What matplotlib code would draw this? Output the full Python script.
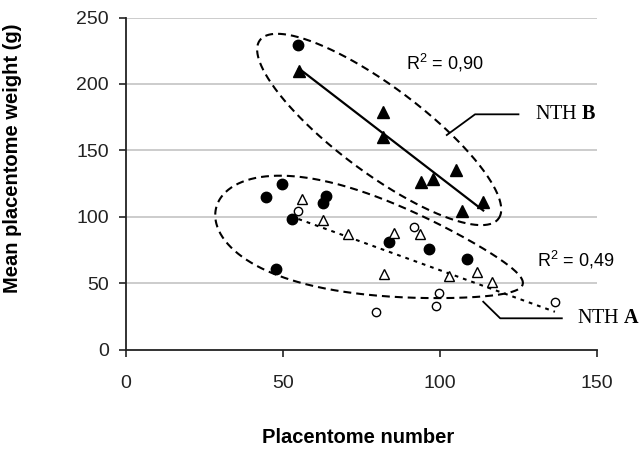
import numpy as np
import matplotlib
matplotlib.use("Agg")
import matplotlib.pyplot as plt

plt.rcParams['font.family'] = ['Liberation Sans', 'DejaVu Sans']
plt.rcParams['mathtext.fontset'] = 'custom'
plt.rcParams['mathtext.rm'] = 'Liberation Sans'
plt.rcParams['mathtext.it'] = 'Liberation Sans:italic'
plt.rcParams['mathtext.bf'] = 'Liberation Serif:bold'
plt.rcParams['mathtext.default'] = 'regular'

# other animals (filled circles)
other_x = [44.6, 49.9, 52.9, 47.8, 55.0, 62.9, 63.8, 83.8, 96.6, 108.7]
other_y = [115.1, 124.4, 98.0, 60.6, 229.3, 110.5, 115.6, 80.9, 75.5, 68.4]

# NTH A: open circles + open triangles
a_circ_x = [55.0, 91.8, 99.7, 98.9, 79.7, 136.6]
a_circ_y = [104.5, 92.0, 42.2, 32.8, 28.5, 36.0]
a_tri_x = [56.1, 62.9, 70.9, 85.4, 82.2, 93.7, 102.9, 111.9, 116.7]
a_tri_y = [113.1, 97.5, 86.7, 87.5, 56.9, 86.7, 55.3, 58.6, 51.1]

# NTH B: filled triangles
b_tri_x = [55.2, 82.0, 82.0, 93.9, 97.9, 105.0, 107.0, 113.8]
b_tri_y = [209.9, 179.1, 159.8, 126.3, 128.6, 134.8, 104.5, 111.1]

r2_a = "0,49"
r2_b = "0,90"

x_ticks = [0, 50, 100, 150]
y_ticks = [0, 50, 100, 150, 200, 250]


def egg(ax, center, a, b, angle, k=0.0, **kw):
    # closed curve, size given in pixels around a data-space centre
    t = np.linspace(0, 2 * np.pi, 400)
    lx = a * np.cos(t)
    ly = b * np.sin(t) * (1 - k * np.cos(t))
    th = np.deg2rad(angle)
    dx = lx * np.cos(th) - ly * np.sin(th)
    dy = lx * np.sin(th) + ly * np.cos(th)
    cx, cy = ax.transData.transform(center)
    pts = ax.transData.inverted().transform(np.column_stack([cx + dx, cy + dy]))
    ax.plot(pts[:, 0], pts[:, 1], color='black', lw=1.5, dashes=(3.8, 2.4), zorder=2, **kw)


fig = plt.figure(figsize=(6.41, 4.5), dpi=100)
ax = fig.add_axes([0.1958, 0.2233, 0.7356, 0.7378])
ax.set_xlim(0, 150)
ax.set_ylim(0, 250)

ax.set_xticks(x_ticks)
ax.set_yticks(y_ticks)
ax.tick_params(axis='both', direction='out', length=5, width=1.2, labelsize=14, colors='#222222')
ax.tick_params(axis='x', pad=13)
ax.tick_params(axis='y', pad=7)
for s in ['top', 'right']:
    ax.spines[s].set_visible(False)
for s in ['left', 'bottom']:
    ax.spines[s].set_linewidth(1.3)
    ax.spines[s].set_color('#222222')

for yv in y_ticks[1:]:
    ax.axhline(yv, color='#c4c4c4', lw=1.2, zorder=0)

# trend lines
ax_all_x = np.array(a_circ_x + a_tri_x)
ax_all_y = np.array(a_circ_y + a_tri_y)
pa = np.polyfit(ax_all_x, ax_all_y, 1)
xa = np.array([ax_all_x.min(), ax_all_x.max()])
ax.plot(xa, np.polyval(pa, xa), color='black', lw=1.5, dashes=(1.8, 2.4), zorder=2)

bx = np.array(b_tri_x)
pb = np.polyfit(bx, np.array(b_tri_y), 1)
xb = np.array([bx.min(), bx.max()])
ax.plot(xb, np.polyval(pb, xb), color='black', lw=1.6, zorder=2)

# ellipses around the groups
egg(ax, (80.7, 165.7), 149, 43, -36.8)
egg(ax, (77.6, 77.9), 158, 49, -14, k=0.4)

# points
ax.plot(other_x, other_y, 'o', color='black', ms=7.5, zorder=3)
ax.plot(a_circ_x, a_circ_y, 'o', mfc='white', mec='black', mew=1.0, ms=6, zorder=3)
ax.plot(a_tri_x, a_tri_y, '^', mfc='white', mec='black', mew=1.0, ms=7, zorder=3)
ax.plot(b_tri_x, b_tri_y, '^', color='black', ms=8, zorder=3)

# R2 labels
ax.text(89.2, 215.7, f"R$^2$ = {r2_b}", fontsize=13, va='center', ha='left')
ax.text(130.8, 67.4, f"R$^2$ = {r2_a}", fontsize=13, va='center', ha='left')

# leaders and group names
ax.plot([102.2, 111.2, 125.0], [161.5, 177.1, 177.1], color='black', lw=1.3, clip_on=False)
ax.plot([113.8, 119.2, 138.8], [36.0, 23.5, 23.5], color='black', lw=1.3, clip_on=False)
ax.text(130.3, 176.8, r"NTH $\mathbf{B}$", fontsize=14.5, family='Liberation Serif',
        va='center', ha='left', clip_on=False)
ax.text(143.6, 23.5, r"NTH $\mathbf{A}$", fontsize=14.5, family='Liberation Serif',
        va='center', ha='left', clip_on=False)

ax.set_xlabel("Placentome number", fontsize=14.5, fontweight='bold')
ax.xaxis.set_label_coords(0.493, -0.237)
ax.set_ylabel("Mean placentome weight (g)", fontsize=14.5, fontweight='bold')
ax.yaxis.set_label_coords(-0.22, 0.575)

fig.savefig("out.png", dpi=100)
